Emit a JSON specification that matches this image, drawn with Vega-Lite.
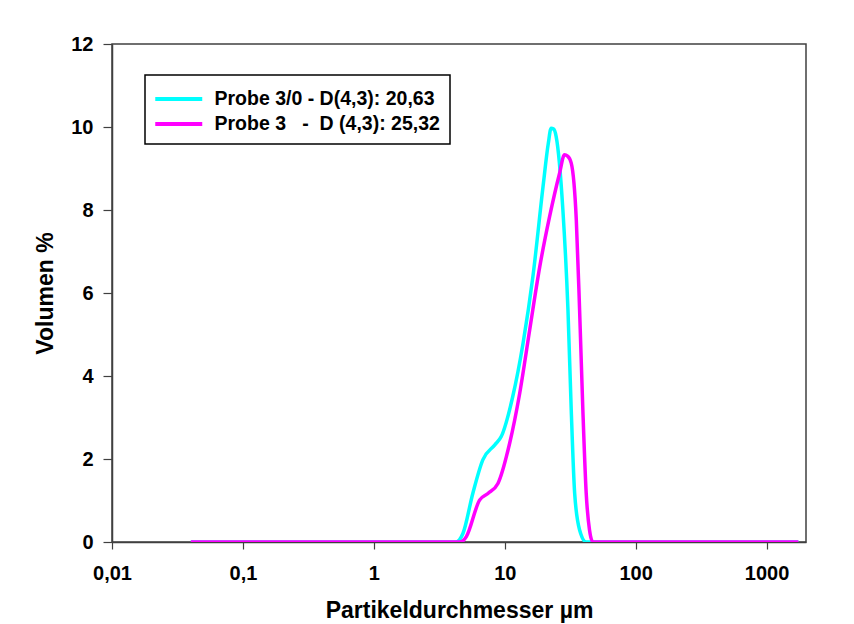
{
  "$schema": "https://vega.github.io/schema/vega-lite/v6.json",
  "width": 694,
  "height": 498,
  "autosize": {"type": "none"},
  "padding": {"left": 112, "top": 44, "right": 48, "bottom": 82},
  "background": "white",
  "config": {
    "font": "Liberation Sans",
    "view": {"stroke": "#404040", "strokeWidth": 1.5},
    "axis": {"grid": false, "domainColor": "#404040", "tickColor": "#404040", "labelFont": "Liberation Sans", "labelFontWeight": "bold", "labelFontSize": 20, "labelColor": "black", "titleFont": "Liberation Sans", "titleFontWeight": "bold", "titleFontSize": 23, "titleColor": "black", "domainWidth": 1.5, "tickWidth": 1.2}
  },
  "data": {"values": [
    {"s": "Probe 3/0 - D(4,3): 20,63", "x": 0.04, "y": 0},
    {"s": "Probe 3/0 - D(4,3): 20,63", "x": 1, "y": 0},
    {"s": "Probe 3/0 - D(4,3): 20,63", "x": 4.2, "y": 0},
    {"s": "Probe 3/0 - D(4,3): 20,63", "x": 4.5, "y": 0.05},
    {"s": "Probe 3/0 - D(4,3): 20,63", "x": 4.8, "y": 0.21},
    {"s": "Probe 3/0 - D(4,3): 20,63", "x": 5.7, "y": 1.17},
    {"s": "Probe 3/0 - D(4,3): 20,63", "x": 6.8, "y": 1.98},
    {"s": "Probe 3/0 - D(4,3): 20,63", "x": 8.4, "y": 2.34},
    {"s": "Probe 3/0 - D(4,3): 20,63", "x": 9.4, "y": 2.54},
    {"s": "Probe 3/0 - D(4,3): 20,63", "x": 11.5, "y": 3.5},
    {"s": "Probe 3/0 - D(4,3): 20,63", "x": 13.8, "y": 4.79},
    {"s": "Probe 3/0 - D(4,3): 20,63", "x": 16.4, "y": 6.39},
    {"s": "Probe 3/0 - D(4,3): 20,63", "x": 19.6, "y": 8.56},
    {"s": "Probe 3/0 - D(4,3): 20,63", "x": 21.5, "y": 9.6},
    {"s": "Probe 3/0 - D(4,3): 20,63", "x": 22.6, "y": 9.97},
    {"s": "Probe 3/0 - D(4,3): 20,63", "x": 23.6, "y": 9.95},
    {"s": "Probe 3/0 - D(4,3): 20,63", "x": 24.7, "y": 9.77},
    {"s": "Probe 3/0 - D(4,3): 20,63", "x": 27.8, "y": 8.0},
    {"s": "Probe 3/0 - D(4,3): 20,63", "x": 30.4, "y": 5.59},
    {"s": "Probe 3/0 - D(4,3): 20,63", "x": 32.2, "y": 3.18},
    {"s": "Probe 3/0 - D(4,3): 20,63", "x": 34.2, "y": 1.17},
    {"s": "Probe 3/0 - D(4,3): 20,63", "x": 37.3, "y": 0.29},
    {"s": "Probe 3/0 - D(4,3): 20,63", "x": 41.9, "y": 0},
    {"s": "Probe 3/0 - D(4,3): 20,63", "x": 100, "y": 0},
    {"s": "Probe 3/0 - D(4,3): 20,63", "x": 1750, "y": 0},
    {"s": "Probe 3\u00a0\u00a0\u00a0- \u00a0D (4,3): 25,32", "x": 0.04, "y": 0},
    {"s": "Probe 3\u00a0\u00a0\u00a0- \u00a0D (4,3): 25,32", "x": 1, "y": 0},
    {"s": "Probe 3\u00a0\u00a0\u00a0- \u00a0D (4,3): 25,32", "x": 4.5, "y": 0},
    {"s": "Probe 3\u00a0\u00a0\u00a0- \u00a0D (4,3): 25,32", "x": 4.8, "y": 0.03},
    {"s": "Probe 3\u00a0\u00a0\u00a0- \u00a0D (4,3): 25,32", "x": 5.09, "y": 0.13},
    {"s": "Probe 3\u00a0\u00a0\u00a0- \u00a0D (4,3): 25,32", "x": 6.42, "y": 1.01},
    {"s": "Probe 3\u00a0\u00a0\u00a0- \u00a0D (4,3): 25,32", "x": 7.44, "y": 1.17},
    {"s": "Probe 3\u00a0\u00a0\u00a0- \u00a0D (4,3): 25,32", "x": 8.87, "y": 1.41},
    {"s": "Probe 3\u00a0\u00a0\u00a0- \u00a0D (4,3): 25,32", "x": 10.9, "y": 2.38},
    {"s": "Probe 3\u00a0\u00a0\u00a0- \u00a0D (4,3): 25,32", "x": 13.0, "y": 3.58},
    {"s": "Probe 3\u00a0\u00a0\u00a0- \u00a0D (4,3): 25,32", "x": 15.5, "y": 5.11},
    {"s": "Probe 3\u00a0\u00a0\u00a0- \u00a0D (4,3): 25,32", "x": 18.5, "y": 6.63},
    {"s": "Probe 3\u00a0\u00a0\u00a0- \u00a0D (4,3): 25,32", "x": 22.0, "y": 7.84},
    {"s": "Probe 3\u00a0\u00a0\u00a0- \u00a0D (4,3): 25,32", "x": 26.2, "y": 8.88},
    {"s": "Probe 3\u00a0\u00a0\u00a0- \u00a0D (4,3): 25,32", "x": 28.6, "y": 9.33},
    {"s": "Probe 3\u00a0\u00a0\u00a0- \u00a0D (4,3): 25,32", "x": 30.2, "y": 9.3},
    {"s": "Probe 3\u00a0\u00a0\u00a0- \u00a0D (4,3): 25,32", "x": 32.2, "y": 9.13},
    {"s": "Probe 3\u00a0\u00a0\u00a0- \u00a0D (4,3): 25,32", "x": 35.2, "y": 7.76},
    {"s": "Probe 3\u00a0\u00a0\u00a0- \u00a0D (4,3): 25,32", "x": 37.3, "y": 5.59},
    {"s": "Probe 3\u00a0\u00a0\u00a0- \u00a0D (4,3): 25,32", "x": 39.5, "y": 3.18},
    {"s": "Probe 3\u00a0\u00a0\u00a0- \u00a0D (4,3): 25,32", "x": 41.9, "y": 1.17},
    {"s": "Probe 3\u00a0\u00a0\u00a0- \u00a0D (4,3): 25,32", "x": 44.4, "y": 0.29},
    {"s": "Probe 3\u00a0\u00a0\u00a0- \u00a0D (4,3): 25,32", "x": 47.1, "y": 0},
    {"s": "Probe 3\u00a0\u00a0\u00a0- \u00a0D (4,3): 25,32", "x": 100, "y": 0},
    {"s": "Probe 3\u00a0\u00a0\u00a0- \u00a0D (4,3): 25,32", "x": 1750, "y": 0}
  ]},
  "mark": {"type": "line", "strokeWidth": 3.5, "interpolate": "monotone", "clip": true},
  "encoding": {
    "x": {"field": "x", "type": "quantitative", "title": "Partikeldurchmesser µm",
      "scale": {"type": "log", "domain": [0.01, 2000], "nice": false},
      "axis": {"values": [0.01, 0.1, 1, 10, 100, 1000], "labelExpr": "replace(toString(datum.value), '.', ',')", "tickSize": 7, "labelPadding": 14, "titlePadding": 16, "labelFlush": false}},
    "y": {"field": "y", "type": "quantitative", "title": "Volumen %",
      "scale": {"domain": [0, 12], "nice": false},
      "axis": {"values": [0, 2, 4, 6, 8, 10, 12], "tickSize": 9, "labelPadding": 10, "titlePadding": 13}},
    "color": {"field": "s", "type": "nominal", "title": null,
      "scale": {"domain": ["Probe 3/0 - D(4,3): 20,63", "Probe 3\u00a0\u00a0\u00a0- \u00a0D (4,3): 25,32"], "range": ["#00ffff", "#ff00ff"]},
      "legend": {"orient": "none", "legendX": 33, "legendY": 31, "symbolType": "M-2,0H2", "symbolSize": 552, "symbolStrokeWidth": 4, "labelFont": "Liberation Sans", "labelFontWeight": "bold", "labelFontSize": 19.5, "labelColor": "black", "labelLimit": 400, "labelOffset": 21.75, "symbolOffset": 9.75, "strokeColor": "black", "fillColor": "white", "padding": 10, "rowPadding": 1, "labelBaseline": "middle",
        "encode": {"legend": {"update": {"strokeWidth": {"value": 1.5}}}}}}
  }
}
